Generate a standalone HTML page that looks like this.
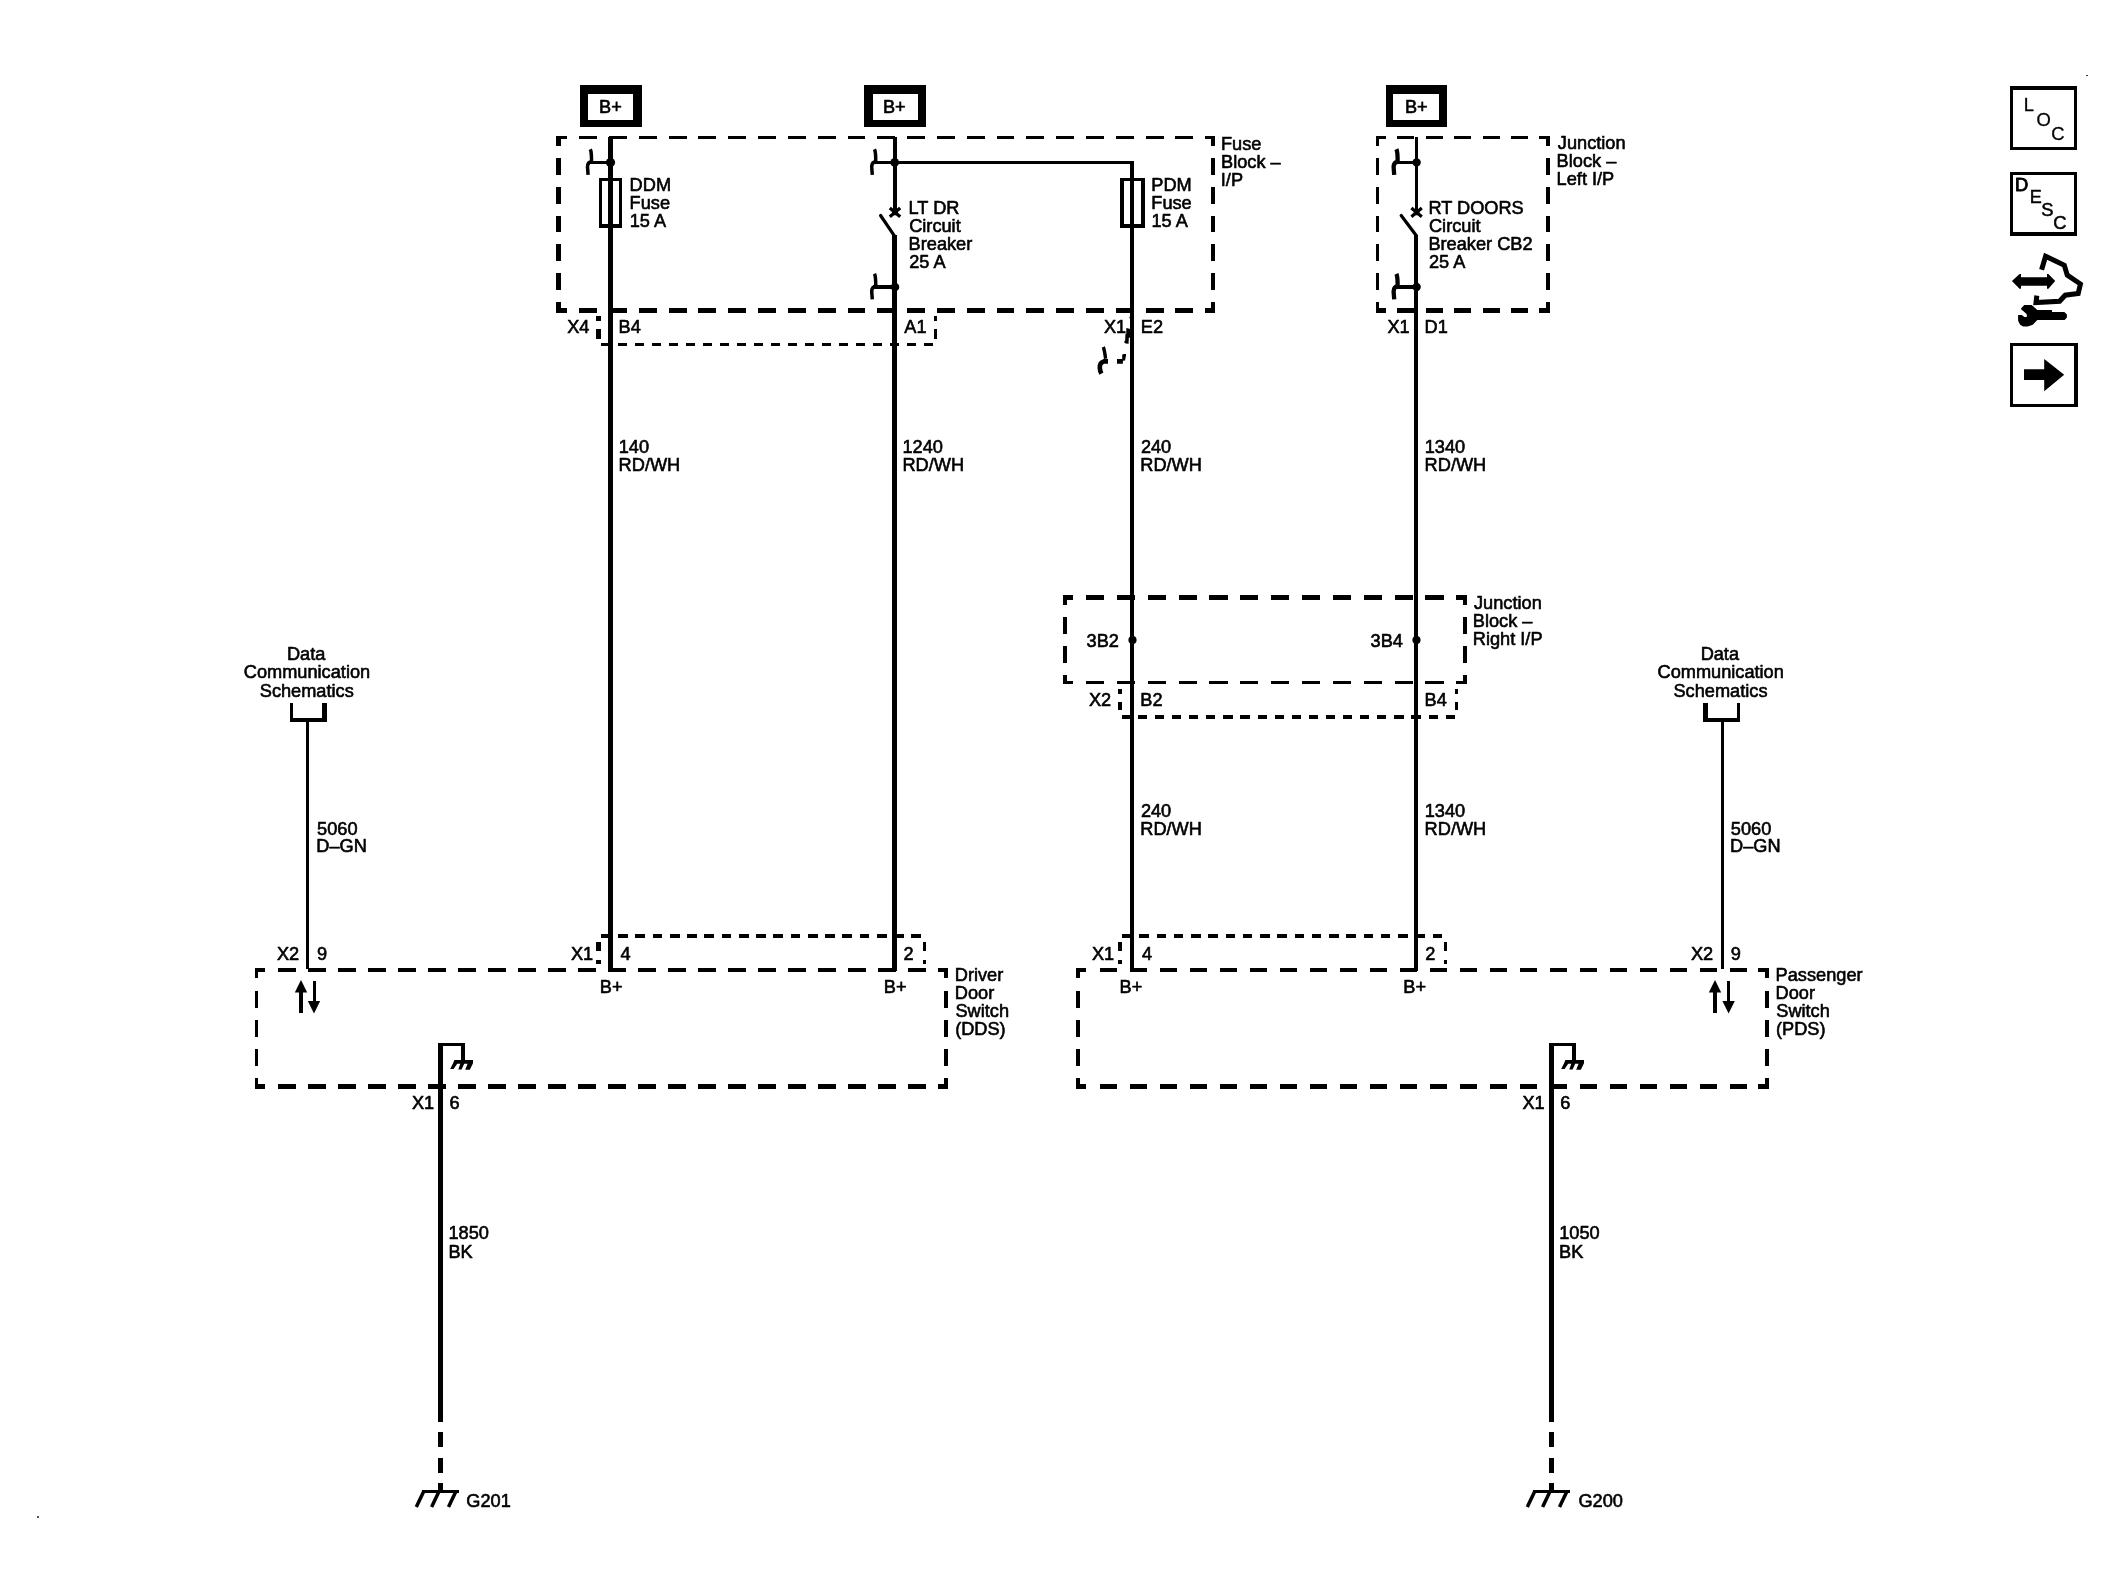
<!DOCTYPE html>
<html><head><meta charset="utf-8"><title>Door Switch Power and Ground Schematic</title>
<style>
html,body{margin:0;padding:0;background:#fff;}
body{width:2124px;height:1593px;overflow:hidden;font-family:"Liberation Sans",sans-serif;}
svg{display:block;will-change:transform;}
svg text{font-family:"Liberation Sans",sans-serif;fill:#000;stroke:#000;stroke-linejoin:round;}
svg rect{fill:#000;shape-rendering:crispEdges;}
.ln{fill:none;stroke:#000;}
.fl{fill:#000;stroke:none;}
</style></head><body>
<svg width="2124" height="1593" viewBox="0 0 2124 1593">
<path class="fl" fill-rule="evenodd" shape-rendering="crispEdges" d="M580 85 H642 V127 H580 Z M588 94 H633 V120 H588 Z"/>
<path class="fl" fill-rule="evenodd" shape-rendering="crispEdges" d="M864 85 H926 V127 H864 Z M873 94 H918 V120 H873 Z"/>
<path class="fl" fill-rule="evenodd" shape-rendering="crispEdges" d="M1386 85 H1447 V127 H1386 Z M1393 94 H1439.3 V120 H1393 Z"/>
<text x="599.02" y="112.50" font-size="18.2" stroke-width="0.6">B+</text>
<text x="882.92" y="112.50" font-size="18.2" stroke-width="0.6">B+</text>
<text x="1404.92" y="112.50" font-size="18.2" stroke-width="0.6">B+</text>
<rect x="608" y="137" width="5.00" height="834.00"/>
<rect x="893" y="137" width="4.00" height="76.00"/>
<rect x="892" y="235" width="5.00" height="736.00"/>
<rect x="894" y="161" width="240.00" height="3.00"/>
<rect x="1130" y="161" width="4.00" height="810.00"/>
<rect x="1415" y="137" width="3.00" height="76.00"/>
<rect x="1414" y="235" width="4.00" height="736.00"/>
<rect x="306" y="722" width="3.00" height="247.00"/>
<rect x="1721" y="722" width="3.00" height="247.00"/>
<rect x="438" y="1043" width="5.00" height="379.00"/>
<rect x="1549" y="1043" width="5.00" height="379.00"/>
<rect x="438" y="1432" width="5.00" height="15.00"/>
<rect x="438" y="1458" width="5.00" height="15.00"/>
<rect x="438" y="1483" width="5.00" height="8.00"/>
<rect x="1549" y="1432" width="5.00" height="15.00"/>
<rect x="1549" y="1458" width="5.00" height="15.00"/>
<rect x="1549" y="1483" width="5.00" height="8.00"/>
<path class="ln" d="M880.6 215.5 L894.4 235.8" stroke-width="3.2" stroke-linecap="round"/>
<path class="ln" d="M1401.2 215.5 L1416.4 235.8" stroke-width="3.2" stroke-linecap="round"/>
<path class="ln" d="M889.8 208.0 L900.2 216.8 M900.2 208.0 L889.8 216.8" stroke-width="3.2"/>
<circle class="fl" cx="895" cy="212.4" r="2.8"/>
<path class="ln" d="M1411.4 208.0 L1421.8 216.8 M1421.8 208.0 L1411.4 216.8" stroke-width="3.2"/>
<circle class="fl" cx="1416.6" cy="212.4" r="2.8"/>
<circle class="fl" cx="610.5" cy="162.4" r="4.6"/>
<circle class="fl" cx="894.7" cy="162.4" r="4.3"/>
<circle class="fl" cx="895" cy="287" r="4.3"/>
<circle class="fl" cx="1416.6" cy="162.4" r="4.2"/>
<circle class="fl" cx="1416.6" cy="287" r="4.2"/>
<circle class="fl" cx="1132.5" cy="640" r="4.1"/>
<circle class="fl" cx="1416.5" cy="640" r="4.1"/>
<rect x="589.0" y="160.8" width="21.50" height="3.20"/>
<path class="ln" d="M590.3 149.2 C591.3 151.4 591.6 156.4 591.5 161.8 C588.4 162.0 587.6 163.9 587.5 166.9 L588.1 174.8" stroke-width="3.5" stroke-linejoin="round"/>
<rect x="873.2" y="160.8" width="21.50" height="3.20"/>
<path class="ln" d="M874.5 149.2 C875.5 151.4 875.8 156.4 875.7 161.8 C872.6 162.0 871.8 163.9 871.7 166.9 L872.3 174.8" stroke-width="3.5" stroke-linejoin="round"/>
<rect x="873.2" y="285.4" width="21.50" height="3.20"/>
<path class="ln" d="M874.5 273.8 C875.5 276 875.8 281 875.7 286.4 C872.6 286.6 871.8 288.5 871.7 291.5 L872.3 299.4" stroke-width="3.5" stroke-linejoin="round"/>
<rect x="1395.1" y="160.8" width="21.50" height="3.20"/>
<path class="ln" d="M1396.4 149.2 C1397.4 151.4 1397.7 156.4 1397.6 161.8 C1394.5 162.0 1393.7 163.9 1393.6 166.9 L1394.2 174.8" stroke-width="4.3" stroke-linejoin="round"/>
<rect x="1395.1" y="285.4" width="21.50" height="3.20"/>
<path class="ln" d="M1396.4 273.8 C1397.4 276 1397.7 281 1397.6 286.4 C1394.5 286.6 1393.7 288.5 1393.6 291.5 L1394.2 299.4" stroke-width="4.3" stroke-linejoin="round"/>
<path class="fl" fill-rule="evenodd" shape-rendering="crispEdges" d="M599 178 H622 V228 H599 Z M602 181 H619 V224.4 H602 Z"/>
<path class="fl" fill-rule="evenodd" shape-rendering="crispEdges" d="M1120 178 H1145 V228 H1120 Z M1123.9 181 H1141.1 V224 H1123.9 Z"/>
<rect x="556" y="136" width="11.00" height="3.00"/>
<rect x="579.2" y="136" width="17.90" height="3.00"/>
<rect x="609.0" y="136" width="17.90" height="3.00"/>
<rect x="638.8" y="136" width="17.90" height="3.00"/>
<rect x="668.6" y="136" width="17.90" height="3.00"/>
<rect x="698.4" y="136" width="17.90" height="3.00"/>
<rect x="728.2" y="136" width="17.90" height="3.00"/>
<rect x="758.1" y="136" width="17.90" height="3.00"/>
<rect x="787.9" y="136" width="17.90" height="3.00"/>
<rect x="817.7" y="136" width="17.90" height="3.00"/>
<rect x="847.5" y="136" width="17.90" height="3.00"/>
<rect x="877.3" y="136" width="17.90" height="3.00"/>
<rect x="907.1" y="136" width="17.90" height="3.00"/>
<rect x="936.9" y="136" width="17.90" height="3.00"/>
<rect x="966.7" y="136" width="17.90" height="3.00"/>
<rect x="996.5" y="136" width="17.90" height="3.00"/>
<rect x="1026.3" y="136" width="17.90" height="3.00"/>
<rect x="1056.2" y="136" width="17.90" height="3.00"/>
<rect x="1086.0" y="136" width="17.90" height="3.00"/>
<rect x="1115.8" y="136" width="17.90" height="3.00"/>
<rect x="1145.6" y="136" width="17.90" height="3.00"/>
<rect x="1175.4" y="136" width="17.90" height="3.00"/>
<rect x="1205.2" y="136" width="9.80" height="3.00"/>
<rect x="556" y="308" width="11.00" height="5.00"/>
<rect x="579.2" y="308" width="17.90" height="5.00"/>
<rect x="609.0" y="308" width="17.90" height="5.00"/>
<rect x="638.8" y="308" width="17.90" height="5.00"/>
<rect x="668.6" y="308" width="17.90" height="5.00"/>
<rect x="698.4" y="308" width="17.90" height="5.00"/>
<rect x="728.2" y="308" width="17.90" height="5.00"/>
<rect x="758.1" y="308" width="17.90" height="5.00"/>
<rect x="787.9" y="308" width="17.90" height="5.00"/>
<rect x="817.7" y="308" width="17.90" height="5.00"/>
<rect x="847.5" y="308" width="17.90" height="5.00"/>
<rect x="877.3" y="308" width="17.90" height="5.00"/>
<rect x="907.1" y="308" width="17.90" height="5.00"/>
<rect x="936.9" y="308" width="17.90" height="5.00"/>
<rect x="966.7" y="308" width="17.90" height="5.00"/>
<rect x="996.5" y="308" width="17.90" height="5.00"/>
<rect x="1026.3" y="308" width="17.90" height="5.00"/>
<rect x="1056.2" y="308" width="17.90" height="5.00"/>
<rect x="1086.0" y="308" width="17.90" height="5.00"/>
<rect x="1115.8" y="308" width="17.90" height="5.00"/>
<rect x="1145.6" y="308" width="17.90" height="5.00"/>
<rect x="1175.4" y="308" width="17.90" height="5.00"/>
<rect x="1205.2" y="308" width="9.80" height="5.00"/>
<rect x="556" y="136" width="5.00" height="10.30"/>
<rect x="556" y="158.0" width="5.00" height="16.70"/>
<rect x="556" y="186.8" width="5.00" height="16.70"/>
<rect x="556" y="215.6" width="5.00" height="16.70"/>
<rect x="556" y="244.4" width="5.00" height="16.70"/>
<rect x="556" y="273.2" width="5.00" height="16.70"/>
<rect x="556" y="302.0" width="5.00" height="11.00"/>
<rect x="1211" y="136" width="4.00" height="10.30"/>
<rect x="1211" y="158.0" width="4.00" height="16.70"/>
<rect x="1211" y="186.8" width="4.00" height="16.70"/>
<rect x="1211" y="215.6" width="4.00" height="16.70"/>
<rect x="1211" y="244.4" width="4.00" height="16.70"/>
<rect x="1211" y="273.2" width="4.00" height="16.70"/>
<rect x="1211" y="302.0" width="4.00" height="11.00"/>
<rect x="1376" y="136" width="10.20" height="3.00"/>
<rect x="1397" y="136" width="17.00" height="3.00"/>
<rect x="1425.5" y="136" width="17.00" height="3.00"/>
<rect x="1454.0" y="136" width="17.00" height="3.00"/>
<rect x="1482.5" y="136" width="17.00" height="3.00"/>
<rect x="1511.0" y="136" width="17.00" height="3.00"/>
<rect x="1539" y="136" width="11.00" height="3.00"/>
<rect x="1376" y="308" width="10.20" height="5.00"/>
<rect x="1397" y="308" width="17.00" height="5.00"/>
<rect x="1425.5" y="308" width="17.00" height="5.00"/>
<rect x="1454.0" y="308" width="17.00" height="5.00"/>
<rect x="1482.5" y="308" width="17.00" height="5.00"/>
<rect x="1511.0" y="308" width="17.00" height="5.00"/>
<rect x="1539" y="308" width="11.00" height="5.00"/>
<rect x="1376" y="136" width="3.00" height="10.30"/>
<rect x="1376" y="158.0" width="3.00" height="16.70"/>
<rect x="1376" y="186.8" width="3.00" height="16.70"/>
<rect x="1376" y="215.6" width="3.00" height="16.70"/>
<rect x="1376" y="244.4" width="3.00" height="16.70"/>
<rect x="1376" y="273.2" width="3.00" height="16.70"/>
<rect x="1376" y="302.0" width="3.00" height="11.00"/>
<rect x="1546" y="136" width="4.00" height="10.30"/>
<rect x="1546" y="158.0" width="4.00" height="16.70"/>
<rect x="1546" y="186.8" width="4.00" height="16.70"/>
<rect x="1546" y="215.6" width="4.00" height="16.70"/>
<rect x="1546" y="244.4" width="4.00" height="16.70"/>
<rect x="1546" y="273.2" width="4.00" height="16.70"/>
<rect x="1546" y="302.0" width="4.00" height="11.00"/>
<rect x="1063" y="595" width="10.20" height="4.80"/>
<rect x="1086" y="595" width="18.20" height="4.80"/>
<rect x="1116.8" y="595" width="18.20" height="4.80"/>
<rect x="1147.7" y="595" width="18.20" height="4.80"/>
<rect x="1178.5" y="595" width="18.20" height="4.80"/>
<rect x="1209.4" y="595" width="18.20" height="4.80"/>
<rect x="1240.2" y="595" width="18.20" height="4.80"/>
<rect x="1271.1" y="595" width="18.20" height="4.80"/>
<rect x="1301.9" y="595" width="18.20" height="4.80"/>
<rect x="1332.8" y="595" width="18.20" height="4.80"/>
<rect x="1363.6" y="595" width="18.20" height="4.80"/>
<rect x="1394.5" y="595" width="18.20" height="4.80"/>
<rect x="1425.3" y="595" width="18.20" height="4.80"/>
<rect x="1455.8" y="595" width="11.20" height="4.80"/>
<rect x="1063" y="681" width="10.20" height="3.00"/>
<rect x="1086" y="681" width="18.20" height="3.00"/>
<rect x="1116.8" y="681" width="18.20" height="3.00"/>
<rect x="1147.7" y="681" width="18.20" height="3.00"/>
<rect x="1178.5" y="681" width="18.20" height="3.00"/>
<rect x="1209.4" y="681" width="18.20" height="3.00"/>
<rect x="1240.2" y="681" width="18.20" height="3.00"/>
<rect x="1271.1" y="681" width="18.20" height="3.00"/>
<rect x="1301.9" y="681" width="18.20" height="3.00"/>
<rect x="1332.8" y="681" width="18.20" height="3.00"/>
<rect x="1363.6" y="681" width="18.20" height="3.00"/>
<rect x="1394.5" y="681" width="18.20" height="3.00"/>
<rect x="1425.3" y="681" width="18.20" height="3.00"/>
<rect x="1455.8" y="681" width="11.20" height="3.00"/>
<rect x="1063" y="595" width="4.00" height="10.30"/>
<rect x="1063" y="617.1" width="4.00" height="16.90"/>
<rect x="1063" y="645.9" width="4.00" height="16.90"/>
<rect x="1063" y="674.9" width="4.00" height="9.10"/>
<rect x="1463" y="595" width="4.00" height="10.30"/>
<rect x="1463" y="617.1" width="4.00" height="16.90"/>
<rect x="1463" y="645.9" width="4.00" height="16.90"/>
<rect x="1463" y="674.9" width="4.00" height="9.10"/>
<rect x="255" y="968" width="10.00" height="3.70"/>
<rect x="278" y="968" width="17.50" height="3.70"/>
<rect x="308" y="968" width="17.50" height="3.70"/>
<rect x="338" y="968" width="17.50" height="3.70"/>
<rect x="368" y="968" width="17.50" height="3.70"/>
<rect x="398" y="968" width="17.50" height="3.70"/>
<rect x="428" y="968" width="17.50" height="3.70"/>
<rect x="458" y="968" width="17.50" height="3.70"/>
<rect x="488" y="968" width="17.50" height="3.70"/>
<rect x="518" y="968" width="17.50" height="3.70"/>
<rect x="548" y="968" width="17.50" height="3.70"/>
<rect x="578" y="968" width="17.50" height="3.70"/>
<rect x="608" y="968" width="17.50" height="3.70"/>
<rect x="638" y="968" width="17.50" height="3.70"/>
<rect x="668" y="968" width="17.50" height="3.70"/>
<rect x="698" y="968" width="17.50" height="3.70"/>
<rect x="728" y="968" width="17.50" height="3.70"/>
<rect x="758" y="968" width="17.50" height="3.70"/>
<rect x="788" y="968" width="17.50" height="3.70"/>
<rect x="818" y="968" width="17.50" height="3.70"/>
<rect x="848" y="968" width="17.50" height="3.70"/>
<rect x="878" y="968" width="17.50" height="3.70"/>
<rect x="908" y="968" width="17.50" height="3.70"/>
<rect x="937.5" y="968" width="10.50" height="3.70"/>
<rect x="255" y="1084" width="10.00" height="4.60"/>
<rect x="278" y="1084" width="17.50" height="4.60"/>
<rect x="308" y="1084" width="17.50" height="4.60"/>
<rect x="338" y="1084" width="17.50" height="4.60"/>
<rect x="368" y="1084" width="17.50" height="4.60"/>
<rect x="398" y="1084" width="17.50" height="4.60"/>
<rect x="428" y="1084" width="17.50" height="4.60"/>
<rect x="458" y="1084" width="17.50" height="4.60"/>
<rect x="488" y="1084" width="17.50" height="4.60"/>
<rect x="518" y="1084" width="17.50" height="4.60"/>
<rect x="548" y="1084" width="17.50" height="4.60"/>
<rect x="578" y="1084" width="17.50" height="4.60"/>
<rect x="608" y="1084" width="17.50" height="4.60"/>
<rect x="638" y="1084" width="17.50" height="4.60"/>
<rect x="668" y="1084" width="17.50" height="4.60"/>
<rect x="698" y="1084" width="17.50" height="4.60"/>
<rect x="728" y="1084" width="17.50" height="4.60"/>
<rect x="758" y="1084" width="17.50" height="4.60"/>
<rect x="788" y="1084" width="17.50" height="4.60"/>
<rect x="818" y="1084" width="17.50" height="4.60"/>
<rect x="848" y="1084" width="17.50" height="4.60"/>
<rect x="878" y="1084" width="17.50" height="4.60"/>
<rect x="908" y="1084" width="17.50" height="4.60"/>
<rect x="937.5" y="1084" width="10.50" height="4.60"/>
<rect x="255" y="968" width="3.00" height="10.30"/>
<rect x="255" y="991.0" width="3.00" height="17.30"/>
<rect x="255" y="1019.8" width="3.00" height="17.30"/>
<rect x="255" y="1048.6" width="3.00" height="17.30"/>
<rect x="255" y="1078.0" width="3.00" height="10.60"/>
<rect x="944" y="968" width="4.00" height="10.30"/>
<rect x="944" y="991.0" width="4.00" height="17.30"/>
<rect x="944" y="1019.8" width="4.00" height="17.30"/>
<rect x="944" y="1048.6" width="4.00" height="17.30"/>
<rect x="944" y="1078.0" width="4.00" height="10.60"/>
<rect x="1076" y="968" width="10.00" height="3.70"/>
<rect x="1099.5" y="968" width="17.50" height="3.70"/>
<rect x="1129.5" y="968" width="17.50" height="3.70"/>
<rect x="1159.5" y="968" width="17.50" height="3.70"/>
<rect x="1189.5" y="968" width="17.50" height="3.70"/>
<rect x="1219.5" y="968" width="17.50" height="3.70"/>
<rect x="1249.5" y="968" width="17.50" height="3.70"/>
<rect x="1279.5" y="968" width="17.50" height="3.70"/>
<rect x="1309.5" y="968" width="17.50" height="3.70"/>
<rect x="1339.5" y="968" width="17.50" height="3.70"/>
<rect x="1369.5" y="968" width="17.50" height="3.70"/>
<rect x="1399.5" y="968" width="17.50" height="3.70"/>
<rect x="1429.5" y="968" width="17.50" height="3.70"/>
<rect x="1459.5" y="968" width="17.50" height="3.70"/>
<rect x="1489.5" y="968" width="17.50" height="3.70"/>
<rect x="1519.5" y="968" width="17.50" height="3.70"/>
<rect x="1549.5" y="968" width="17.50" height="3.70"/>
<rect x="1579.5" y="968" width="17.50" height="3.70"/>
<rect x="1609.5" y="968" width="17.50" height="3.70"/>
<rect x="1639.5" y="968" width="17.50" height="3.70"/>
<rect x="1669.5" y="968" width="17.50" height="3.70"/>
<rect x="1699.5" y="968" width="17.50" height="3.70"/>
<rect x="1729.5" y="968" width="17.50" height="3.70"/>
<rect x="1758" y="968" width="11.00" height="3.70"/>
<rect x="1076" y="1084" width="10.00" height="4.60"/>
<rect x="1099.5" y="1084" width="17.50" height="4.60"/>
<rect x="1129.5" y="1084" width="17.50" height="4.60"/>
<rect x="1159.5" y="1084" width="17.50" height="4.60"/>
<rect x="1189.5" y="1084" width="17.50" height="4.60"/>
<rect x="1219.5" y="1084" width="17.50" height="4.60"/>
<rect x="1249.5" y="1084" width="17.50" height="4.60"/>
<rect x="1279.5" y="1084" width="17.50" height="4.60"/>
<rect x="1309.5" y="1084" width="17.50" height="4.60"/>
<rect x="1339.5" y="1084" width="17.50" height="4.60"/>
<rect x="1369.5" y="1084" width="17.50" height="4.60"/>
<rect x="1399.5" y="1084" width="17.50" height="4.60"/>
<rect x="1429.5" y="1084" width="17.50" height="4.60"/>
<rect x="1459.5" y="1084" width="17.50" height="4.60"/>
<rect x="1489.5" y="1084" width="17.50" height="4.60"/>
<rect x="1519.5" y="1084" width="17.50" height="4.60"/>
<rect x="1549.5" y="1084" width="17.50" height="4.60"/>
<rect x="1579.5" y="1084" width="17.50" height="4.60"/>
<rect x="1609.5" y="1084" width="17.50" height="4.60"/>
<rect x="1639.5" y="1084" width="17.50" height="4.60"/>
<rect x="1669.5" y="1084" width="17.50" height="4.60"/>
<rect x="1699.5" y="1084" width="17.50" height="4.60"/>
<rect x="1729.5" y="1084" width="17.50" height="4.60"/>
<rect x="1758" y="1084" width="11.00" height="4.60"/>
<rect x="1076" y="968" width="3.50" height="10.30"/>
<rect x="1076" y="991.0" width="3.50" height="17.30"/>
<rect x="1076" y="1019.8" width="3.50" height="17.30"/>
<rect x="1076" y="1048.6" width="3.50" height="17.30"/>
<rect x="1076" y="1078.0" width="3.50" height="10.60"/>
<rect x="1765" y="968" width="4.00" height="10.30"/>
<rect x="1765" y="991.0" width="4.00" height="17.30"/>
<rect x="1765" y="1019.8" width="4.00" height="17.30"/>
<rect x="1765" y="1048.6" width="4.00" height="17.30"/>
<rect x="1765" y="1078.0" width="4.00" height="10.60"/>
<rect x="596" y="316" width="5.00" height="5.00"/>
<rect x="596" y="329" width="5.00" height="10.00"/>
<rect x="934" y="316" width="3.00" height="5.00"/>
<rect x="934" y="329" width="3.00" height="10.00"/>
<rect x="601" y="343" width="7.00" height="3.20"/>
<rect x="617.8" y="343" width="9.00" height="3.20"/>
<rect x="634.8" y="343" width="9.00" height="3.20"/>
<rect x="651.9" y="343" width="9.00" height="3.20"/>
<rect x="668.9" y="343" width="9.00" height="3.20"/>
<rect x="685.9" y="343" width="9.00" height="3.20"/>
<rect x="702.9" y="343" width="9.00" height="3.20"/>
<rect x="720.0" y="343" width="9.00" height="3.20"/>
<rect x="737.0" y="343" width="9.00" height="3.20"/>
<rect x="754.0" y="343" width="9.00" height="3.20"/>
<rect x="771.1" y="343" width="9.00" height="3.20"/>
<rect x="788.1" y="343" width="9.00" height="3.20"/>
<rect x="805.1" y="343" width="9.00" height="3.20"/>
<rect x="822.2" y="343" width="9.00" height="3.20"/>
<rect x="839.2" y="343" width="9.00" height="3.20"/>
<rect x="856.2" y="343" width="9.00" height="3.20"/>
<rect x="873.2" y="343" width="9.00" height="3.20"/>
<rect x="890.3" y="343" width="9.00" height="3.20"/>
<rect x="907.3" y="343" width="9.00" height="3.20"/>
<rect x="924.3" y="343" width="9.00" height="3.20"/>
<rect x="1118" y="689" width="4.00" height="4.80"/>
<rect x="1118" y="702" width="4.00" height="7.80"/>
<rect x="1455" y="689" width="2.60" height="4.80"/>
<rect x="1455" y="702" width="2.60" height="7.80"/>
<rect x="1122" y="715" width="8.00" height="4.00"/>
<rect x="1137.8" y="715" width="9.20" height="4.00"/>
<rect x="1154.9" y="715" width="9.20" height="4.00"/>
<rect x="1172.0" y="715" width="9.20" height="4.00"/>
<rect x="1189.1" y="715" width="9.20" height="4.00"/>
<rect x="1206.2" y="715" width="9.20" height="4.00"/>
<rect x="1223.3" y="715" width="9.20" height="4.00"/>
<rect x="1240.4" y="715" width="9.20" height="4.00"/>
<rect x="1257.5" y="715" width="9.20" height="4.00"/>
<rect x="1274.6" y="715" width="9.20" height="4.00"/>
<rect x="1291.7" y="715" width="9.20" height="4.00"/>
<rect x="1308.8" y="715" width="9.20" height="4.00"/>
<rect x="1325.9" y="715" width="9.20" height="4.00"/>
<rect x="1343.0" y="715" width="9.20" height="4.00"/>
<rect x="1360.1" y="715" width="9.20" height="4.00"/>
<rect x="1377.2" y="715" width="9.20" height="4.00"/>
<rect x="1394.3" y="715" width="9.20" height="4.00"/>
<rect x="1411.4" y="715" width="9.20" height="4.00"/>
<rect x="1428.5" y="715" width="9.20" height="4.00"/>
<rect x="1445.6" y="715" width="9.20" height="4.00"/>
<rect x="596" y="942" width="5.00" height="8.60"/>
<rect x="596" y="959.8" width="5.00" height="4.00"/>
<rect x="923" y="942" width="2.60" height="8.60"/>
<rect x="923" y="959.8" width="2.60" height="4.00"/>
<rect x="601" y="934" width="7.00" height="4.00"/>
<rect x="618.1" y="934" width="9.60" height="4.00"/>
<rect x="635.4" y="934" width="9.60" height="4.00"/>
<rect x="652.6" y="934" width="9.60" height="4.00"/>
<rect x="669.9" y="934" width="9.60" height="4.00"/>
<rect x="687.1" y="934" width="9.60" height="4.00"/>
<rect x="704.4" y="934" width="9.60" height="4.00"/>
<rect x="721.6" y="934" width="9.60" height="4.00"/>
<rect x="738.9" y="934" width="9.60" height="4.00"/>
<rect x="756.1" y="934" width="9.60" height="4.00"/>
<rect x="773.4" y="934" width="9.60" height="4.00"/>
<rect x="790.6" y="934" width="9.60" height="4.00"/>
<rect x="807.9" y="934" width="9.60" height="4.00"/>
<rect x="825.1" y="934" width="9.60" height="4.00"/>
<rect x="842.4" y="934" width="9.60" height="4.00"/>
<rect x="859.6" y="934" width="9.60" height="4.00"/>
<rect x="876.9" y="934" width="9.60" height="4.00"/>
<rect x="894.1" y="934" width="9.60" height="4.00"/>
<rect x="911.4" y="934" width="9.60" height="4.00"/>
<rect x="1118" y="942" width="4.00" height="8.60"/>
<rect x="1118" y="959.8" width="4.00" height="4.00"/>
<rect x="1444" y="942" width="2.60" height="8.60"/>
<rect x="1444" y="959.8" width="2.60" height="4.00"/>
<rect x="1122" y="934" width="8.00" height="4.00"/>
<rect x="1139.2" y="934" width="9.60" height="4.00"/>
<rect x="1156.5" y="934" width="9.50" height="4.00"/>
<rect x="1173.7" y="934" width="9.60" height="4.00"/>
<rect x="1191.0" y="934" width="9.50" height="4.00"/>
<rect x="1208.2" y="934" width="9.60" height="4.00"/>
<rect x="1225.5" y="934" width="9.50" height="4.00"/>
<rect x="1242.7" y="934" width="9.60" height="4.00"/>
<rect x="1260.0" y="934" width="9.50" height="4.00"/>
<rect x="1277.2" y="934" width="9.60" height="4.00"/>
<rect x="1294.5" y="934" width="9.50" height="4.00"/>
<rect x="1311.7" y="934" width="9.60" height="4.00"/>
<rect x="1329.0" y="934" width="9.50" height="4.00"/>
<rect x="1346.2" y="934" width="9.60" height="4.00"/>
<rect x="1363.5" y="934" width="9.50" height="4.00"/>
<rect x="1380.7" y="934" width="9.60" height="4.00"/>
<rect x="1398.0" y="934" width="9.50" height="4.00"/>
<rect x="1415.2" y="934" width="9.60" height="4.00"/>
<rect x="1432.5" y="934" width="9.50" height="4.00"/>
<rect x="290" y="703" width="3.00" height="19.00"/>
<rect x="322" y="703" width="5.00" height="19.00"/>
<rect x="290" y="717.5" width="37.00" height="4.50"/>
<rect x="1703" y="703" width="5.00" height="19.00"/>
<rect x="1737" y="703" width="3.00" height="19.00"/>
<rect x="1703" y="717.5" width="37.00" height="4.50"/>
<rect x="299" y="990" width="4.00" height="23.00"/>
<path class="fl" d="M301 980 L307.2 992.5 L294.8 992.5 Z"/>
<rect x="312.5" y="980.5" width="3.00" height="21.50"/>
<path class="fl" d="M314 1013.5 L320.2 1001 L307.8 1001 Z"/>
<rect x="1713" y="990" width="4.00" height="23.00"/>
<path class="fl" d="M1715 980 L1721.2 992.5 L1708.8 992.5 Z"/>
<rect x="1727.1" y="980.5" width="3.00" height="21.50"/>
<path class="fl" d="M1728.6 1013.5 L1734.8 1001 L1722.4 1001 Z"/>
<rect x="438" y="1043" width="27.00" height="3.00"/>
<rect x="461" y="1043" width="4.00" height="18.00"/>
<path class="fl" d="M454.4 1060 H473 V1063.2 L469.8 1069.8 H465.2 L467.6 1063.8 H464.2 L461.6 1069.6 H458.3 L460.3 1063.8 H457.2 L453.6 1069 H450.2 L453.2 1063 Z"/>
<rect x="1549" y="1043" width="27.00" height="3.00"/>
<rect x="1572" y="1043" width="4.00" height="18.00"/>
<path class="fl" d="M1565.4 1060 H1584 V1063.2 L1580.8 1069.8 H1576.2 L1578.6 1063.8 H1575.2 L1572.6 1069.6 H1569.3 L1571.3 1063.8 H1568.2 L1564.6 1069 H1561.2 L1564.2 1063 Z"/>
<rect x="422.2" y="1490" width="36.70" height="2.80"/>
<path class="ln" d="M423.9 1491 L416.3 1507" stroke-width="3.5"/>
<path class="ln" d="M439.2 1491 L431.6 1507" stroke-width="3.5"/>
<path class="ln" d="M456.1 1491 L448.5 1507" stroke-width="3.5"/>
<rect x="1533.2" y="1490" width="36.70" height="2.80"/>
<path class="ln" d="M1534.9 1491 L1527.3 1507" stroke-width="3.5"/>
<path class="ln" d="M1550.2 1491 L1542.6 1507" stroke-width="3.5"/>
<path class="ln" d="M1567.1 1491 L1559.5 1507" stroke-width="3.5"/>
<text x="629.61" y="190.70" font-size="18.2" stroke-width="0.6">DDM</text>
<text x="629.61" y="208.70" font-size="18.2" stroke-width="0.6">Fuse</text>
<text x="629.71" y="226.70" font-size="18.2" stroke-width="0.6">15 A</text>
<text x="908.61" y="213.80" font-size="18.2" stroke-width="0.6">LT DR</text>
<text x="909.18" y="231.80" font-size="18.2" stroke-width="0.6">Circuit</text>
<text x="908.61" y="249.80" font-size="18.2" stroke-width="0.6">Breaker</text>
<text x="909.18" y="267.80" font-size="18.2" stroke-width="0.6">25 A</text>
<text x="1151.31" y="190.70" font-size="18.2" stroke-width="0.6">PDM</text>
<text x="1151.31" y="208.70" font-size="18.2" stroke-width="0.6">Fuse</text>
<text x="1151.41" y="226.70" font-size="18.2" stroke-width="0.6">15 A</text>
<text x="1221.01" y="149.80" font-size="18.2" stroke-width="0.6">Fuse</text>
<text x="1221.01" y="167.70" font-size="18.2" stroke-width="0.6">Block –</text>
<text x="1220.82" y="185.60" font-size="18.2" stroke-width="0.6">I/P</text>
<text x="1428.41" y="213.80" font-size="18.2" stroke-width="0.6">RT DOORS</text>
<text x="1428.98" y="231.80" font-size="18.2" stroke-width="0.6">Circuit</text>
<text x="1428.41" y="249.80" font-size="18.2" stroke-width="0.6">Breaker CB2</text>
<text x="1428.98" y="267.80" font-size="18.2" stroke-width="0.6">25 A</text>
<text x="1557.82" y="149.30" font-size="18.2" stroke-width="0.6">Junction</text>
<text x="1556.61" y="167.20" font-size="18.2" stroke-width="0.6">Block –</text>
<text x="1556.61" y="185.10" font-size="18.2" stroke-width="0.6">Left I/P</text>
<text x="567.19" y="332.70" font-size="18.2" stroke-width="0.6">X4</text>
<text x="618.61" y="332.70" font-size="18.2" stroke-width="0.6">B4</text>
<text x="904.26" y="332.70" font-size="18.2" stroke-width="0.6">A1</text>
<text x="1103.89" y="332.80" font-size="18.2" stroke-width="0.6">X1</text>
<text x="1140.81" y="332.80" font-size="18.2" stroke-width="0.6">E2</text>
<text x="1387.39" y="332.70" font-size="18.2" stroke-width="0.6">X1</text>
<text x="1424.61" y="332.70" font-size="18.2" stroke-width="0.6">D1</text>
<text x="618.71" y="453.00" font-size="18.2" stroke-width="0.6">140</text>
<text x="618.61" y="471.00" font-size="18.2" stroke-width="0.6">RD/WH</text>
<text x="902.51" y="453.00" font-size="18.2" stroke-width="0.6">1240</text>
<text x="902.41" y="471.00" font-size="18.2" stroke-width="0.6">RD/WH</text>
<text x="1140.88" y="453.00" font-size="18.2" stroke-width="0.6">240</text>
<text x="1140.31" y="471.00" font-size="18.2" stroke-width="0.6">RD/WH</text>
<text x="1424.71" y="453.00" font-size="18.2" stroke-width="0.6">1340</text>
<text x="1424.61" y="471.00" font-size="18.2" stroke-width="0.6">RD/WH</text>
<text x="1086.61" y="646.60" font-size="18.2" stroke-width="0.6">3B2</text>
<text x="1370.61" y="646.60" font-size="18.2" stroke-width="0.6">3B4</text>
<text x="1474.02" y="609.30" font-size="18.2" stroke-width="0.6">Junction</text>
<text x="1472.81" y="626.90" font-size="18.2" stroke-width="0.6">Block –</text>
<text x="1472.81" y="644.50" font-size="18.2" stroke-width="0.6">Right I/P</text>
<text x="1088.89" y="705.70" font-size="18.2" stroke-width="0.6">X2</text>
<text x="1140.31" y="705.70" font-size="18.2" stroke-width="0.6">B2</text>
<text x="1424.61" y="705.70" font-size="18.2" stroke-width="0.6">B4</text>
<text x="1140.88" y="817.20" font-size="18.2" stroke-width="0.6">240</text>
<text x="1140.31" y="834.80" font-size="18.2" stroke-width="0.6">RD/WH</text>
<text x="1424.71" y="817.20" font-size="18.2" stroke-width="0.6">1340</text>
<text x="1424.61" y="834.80" font-size="18.2" stroke-width="0.6">RD/WH</text>
<text x="286.93" y="660.20" font-size="18.2" stroke-width="0.6">Data</text>
<text x="243.81" y="678.40" font-size="18.2" stroke-width="0.6">Communication</text>
<text x="259.78" y="696.60" font-size="18.2" stroke-width="0.6">Schematics</text>
<text x="1700.63" y="660.20" font-size="18.2" stroke-width="0.6">Data</text>
<text x="1657.51" y="678.40" font-size="18.2" stroke-width="0.6">Communication</text>
<text x="1673.48" y="696.60" font-size="18.2" stroke-width="0.6">Schematics</text>
<text x="317.07" y="834.80" font-size="18.2" stroke-width="0.6">5060</text>
<text x="316.31" y="852.40" font-size="18.2" stroke-width="0.6">D–GN</text>
<text x="1730.87" y="834.80" font-size="18.2" stroke-width="0.6">5060</text>
<text x="1730.11" y="852.40" font-size="18.2" stroke-width="0.6">D–GN</text>
<text x="276.89" y="959.80" font-size="18.2" stroke-width="0.6">X2</text>
<text x="316.95" y="959.80" font-size="18.2" stroke-width="0.6">9</text>
<text x="1690.89" y="959.80" font-size="18.2" stroke-width="0.6">X2</text>
<text x="1730.75" y="959.80" font-size="18.2" stroke-width="0.6">9</text>
<text x="570.89" y="959.80" font-size="18.2" stroke-width="0.6">X1</text>
<text x="620.38" y="959.80" font-size="18.2" stroke-width="0.6">4</text>
<text x="903.38" y="959.80" font-size="18.2" stroke-width="0.6">2</text>
<text x="1091.89" y="959.80" font-size="18.2" stroke-width="0.6">X1</text>
<text x="1141.88" y="959.80" font-size="18.2" stroke-width="0.6">4</text>
<text x="1425.18" y="959.80" font-size="18.2" stroke-width="0.6">2</text>
<text x="599.81" y="993.00" font-size="18.2" stroke-width="0.6">B+</text>
<text x="883.81" y="993.00" font-size="18.2" stroke-width="0.6">B+</text>
<text x="1119.61" y="993.00" font-size="18.2" stroke-width="0.6">B+</text>
<text x="1403.31" y="993.00" font-size="18.2" stroke-width="0.6">B+</text>
<text x="954.81" y="981.20" font-size="18.2" stroke-width="0.6">Driver</text>
<text x="954.81" y="999.10" font-size="18.2" stroke-width="0.6">Door</text>
<text x="955.47" y="1017.00" font-size="18.2" stroke-width="0.6">Switch</text>
<text x="955.17" y="1034.90" font-size="18.2" stroke-width="0.6">(DDS)</text>
<text x="1775.61" y="981.20" font-size="18.2" stroke-width="0.6">Passenger</text>
<text x="1775.61" y="999.10" font-size="18.2" stroke-width="0.6">Door</text>
<text x="1776.27" y="1017.00" font-size="18.2" stroke-width="0.6">Switch</text>
<text x="1775.97" y="1034.90" font-size="18.2" stroke-width="0.6">(PDS)</text>
<text x="411.89" y="1108.60" font-size="18.2" stroke-width="0.6">X1</text>
<text x="449.38" y="1108.60" font-size="18.2" stroke-width="0.6">6</text>
<text x="1522.39" y="1108.60" font-size="18.2" stroke-width="0.6">X1</text>
<text x="1560.18" y="1108.60" font-size="18.2" stroke-width="0.6">6</text>
<text x="448.51" y="1239.20" font-size="18.2" stroke-width="0.6">1850</text>
<text x="448.41" y="1257.60" font-size="18.2" stroke-width="0.6">BK</text>
<text x="1559.21" y="1239.20" font-size="18.2" stroke-width="0.6">1050</text>
<text x="1559.11" y="1257.60" font-size="18.2" stroke-width="0.6">BK</text>
<text x="466.28" y="1507.30" font-size="18.2" stroke-width="0.6">G201</text>
<text x="1578.38" y="1507.30" font-size="18.2" stroke-width="0.6">G200</text>
<rect x="2010" y="86" width="67.00" height="4.00"/>
<rect x="2010" y="147" width="67.00" height="3.00"/>
<rect x="2010" y="86" width="3.00" height="64.00"/>
<rect x="2074" y="86" width="3.00" height="64.00"/>
<rect x="2010" y="172" width="67.00" height="3.20"/>
<rect x="2010" y="232" width="67.00" height="4.00"/>
<rect x="2010" y="172" width="3.00" height="64.00"/>
<rect x="2074" y="172" width="3.00" height="64.00"/>
<rect x="2010" y="343" width="68.00" height="3.00"/>
<rect x="2010" y="404" width="68.00" height="3.00"/>
<rect x="2010" y="343" width="3.00" height="64.00"/>
<rect x="2074" y="343" width="4.00" height="64.00"/>
<text x="2023.64" y="111.00" font-size="18.4" stroke-width="0.3">L</text>
<text x="2036.38" y="125.60" font-size="18.4" stroke-width="0.3">O</text>
<text x="2051.32" y="139.60" font-size="18.4" stroke-width="0.3">C</text>
<text x="2014.94" y="191.00" font-size="18.4" stroke-width="0.9">D</text>
<text x="2029.77" y="202.60" font-size="18" stroke-width="0.5">E</text>
<text x="2041.31" y="215.50" font-size="18.4" stroke-width="0.5">S</text>
<text x="2053.22" y="228.60" font-size="18.4" stroke-width="0.5">C</text>
<path class="fl" d="M2024 369.2 H2044.2 V359 L2064.2 374.8 L2044.2 391.2 V379.9 H2024 Z"/>
<path class="fl" d="M2011.9 281 L2019.6 274.1 H2021 V277.2 H2047 V274.1 H2048.4 L2055.2 281 L2048.4 288.8 H2047 V285.8 H2021 V288.8 H2019.6 Z"/>
<path class="ln" d="M2041.6 269.8 L2045.6 256.2 L2064.3 265.2 L2067.3 275.2 L2080.4 284 L2078.2 293.4 L2065.2 295.2 L2059.6 301.2 L2036 302.6 L2036.8 295.6" stroke-width="5" stroke-linejoin="miter" stroke-linecap="butt"/>
<path class="fl" d="M2024.3 304.9 L2031.6 304.9 L2037.3 310 L2052 310 L2052 311.9 L2064.4 311.9 L2066.9 314.5 L2066.9 317.6 L2064.7 319.9 L2037.3 319.9 L2032.8 324.7 L2027.7 326.6 L2023.2 326.6 L2020.1 324.7 L2018.1 320.7 L2018.1 315.1 L2021.8 315.1 L2024.3 317 L2026.8 317 L2026.8 314.2 L2023.2 311.1 L2021.2 309.4 L2021.2 308.2 Z"/>
<path class="fl" d="M1126.3 328 L1130.5 329 L1130.5 337.5 L1128.8 337.8 L1128.6 343.8 L1125.6 343.4 L1124 342 L1125.2 340.6 L1125.4 334 L1126.3 333.5 Z"/>
<path class="fl" d="M1130 316.2 h0.8 v2 h-1.6 z"/>
<path class="fl" d="M1117 359 H1122.2 V354.8 L1123.6 354 H1126 V355.6 L1125 360.6 L1123 360.8 L1122.8 363.8 H1117 Z"/>
<path class="ln" d="M1103.3 347 C1104.5 350 1105 354 1105.6 358.8" stroke-width="3.4"/>
<path class="ln" d="M1108 361.4 H1103.8 C1100.6 362.2 1099.6 364.4 1099.8 368 C1100 370.6 1100.6 372.2 1101.4 373.6" stroke-width="4.6"/>
<rect x="2086" y="75" width="2" height="1" style="fill:#333"/>
<rect x="37" y="1516" width="2" height="2" style="fill:#555"/>
</svg>
</body></html>
